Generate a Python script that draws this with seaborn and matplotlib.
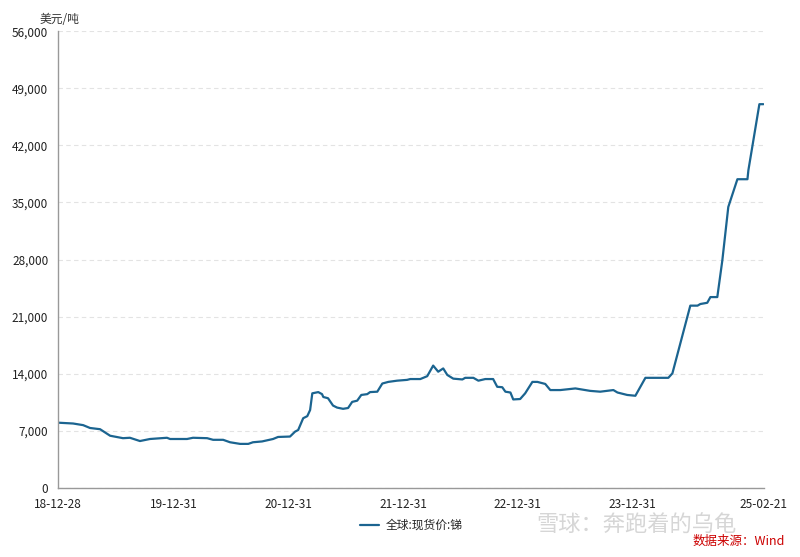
import pandas as pd
import matplotlib
matplotlib.use('Agg')
import matplotlib.pyplot as plt
import seaborn as sns

# Antimony spot price (USD/t)
dates = [
    '2018-12-28', '2019-02-14', '2019-03-18', '2019-04-09', '2019-05-11', '2019-06-12',
    '2019-07-23', '2019-08-14', '2019-09-15', '2019-10-17', '2019-12-10', '2019-12-20',
    '2020-02-12', '2020-03-02', '2020-04-16', '2020-05-05', '2020-06-06', '2020-06-28',
    '2020-07-30', '2020-08-25', '2020-09-09', '2020-10-08', '2020-11-12', '2020-11-28',
    '2021-01-05', '2021-01-21', '2021-01-31', '2021-02-16', '2021-03-01', '2021-03-10',
    '2021-03-17', '2021-04-05', '2021-04-17', '2021-04-21', '2021-05-06', '2021-05-22',
    '2021-06-04', '2021-06-23', '2021-07-09', '2021-07-22', '2021-08-07', '2021-08-20',
    '2021-09-08', '2021-09-17', '2021-10-10', '2021-10-26', '2021-11-14', '2021-12-12',
    '2022-01-13', '2022-01-23', '2022-02-24', '2022-03-18', '2022-04-06', '2022-04-22',
    '2022-05-08', '2022-05-21', '2022-06-09', '2022-07-08', '2022-07-17', '2022-08-12',
    '2022-08-28', '2022-09-19', '2022-10-14', '2022-10-27', '2022-11-12', '2022-11-22',
    '2022-12-08', '2022-12-17', '2023-01-08', '2023-01-24', '2023-02-16', '2023-03-04',
    '2023-03-29', '2023-04-14', '2023-05-16', '2023-07-03', '2023-08-19', '2023-09-20',
    '2023-11-01', '2023-11-14', '2023-12-15', '2024-01-10', '2024-02-11', '2024-04-24',
    '2024-05-07', '2024-07-03', '2024-07-26', '2024-08-04', '2024-08-26', '2024-09-05',
    '2024-09-27', '2024-10-13', '2024-11-01', '2024-11-30', '2025-01-01', '2025-01-04',
    '2025-02-08', '2025-02-21',
]
prices = [
    8000, 7900, 7700, 7350, 7200, 6400,
    6100, 6150, 5750, 6000, 6150, 6000,
    6000, 6150, 6100, 5900, 5900, 5600,
    5400, 5400, 5600, 5700, 6000, 6250,
    6300, 6900, 7100, 8550, 8800, 9550,
    11600, 11750, 11500, 11150, 11000, 10100,
    9850, 9700, 9800, 10550, 10700, 11400,
    11500, 11750, 11800, 12800, 13000, 13150,
    13250, 13350, 13350, 13700, 15000, 14250,
    14650, 13850, 13400, 13300, 13500, 13500,
    13150, 13350, 13350, 12400, 12350, 11800,
    11700, 10850, 10900, 11600, 13000, 13000,
    12750, 12000, 12000, 12200, 11900, 11800,
    12000, 11700, 11400, 11300, 13500, 13500,
    14050, 22350, 22350, 22550, 22700, 23400,
    23400, 27900, 34450, 37850, 37850, 38950,
    47050, 47050,
]
tick_dates = ['2018-12-28', '2019-12-31', '2020-12-31', '2021-12-31',
              '2022-12-31', '2023-12-31', '2025-02-21']
tick_labels = ['18-12-28', '19-12-31', '20-12-31', '21-12-31',
               '22-12-31', '23-12-31', '25-02-21']
y_ticks = [0, 7000, 14000, 21000, 28000, 35000, 42000, 49000, 56000]
series_name = '全球:现货价:锑'

df = pd.DataFrame({'date': pd.to_datetime(dates), 'price': prices})

sns.set_style('white')
plt.rcParams['font.family'] = ['Noto Sans CJK SC', 'DejaVu Sans']

fig = plt.figure(figsize=(8, 5.57), dpi=100)
ax = fig.add_axes([0.0725, 0.124, 0.883, 0.82])

sns.lineplot(data=df, x='date', y='price', ax=ax, color='#1b6490',
             linewidth=1.6, label=series_name)

ax.set_xlim(pd.Timestamp('2018-12-28'), pd.Timestamp('2025-02-24'))
ax.set_ylim(0, 56000)
ax.set_xticks(pd.to_datetime(tick_dates))
ax.set_xticklabels(tick_labels, fontsize=8.5, color='#222222')
ax.set_yticks(y_ticks)
ax.set_yticklabels([f'{v:,}' for v in y_ticks], fontsize=8.5, color='#222222')
ax.set_xlabel('')
ax.set_ylabel('')

ax.yaxis.grid(True, linestyle=(0, (4, 3)), color='#e3e3e3', linewidth=0.8)
ax.xaxis.grid(False)
for side in ['top', 'right']:
    ax.spines[side].set_visible(False)
for side in ['left', 'bottom']:
    ax.spines[side].set_color('#999999')
    ax.spines[side].set_linewidth(1.0)
ax.tick_params(axis='both', length=5, width=0.8, color='#999999', pad=2, direction='out')

ax.text(-0.026, 1.018, '美元/吨', transform=ax.transAxes, fontsize=8.5, color='#333333')

leg = ax.legend(loc='upper center', bbox_to_anchor=(0.5, -0.045), frameon=False,
                fontsize=8.5, handlelength=1.6, handletextpad=0.6)

fig.text(0.67, 0.045, '雪球：奔跑着的乌龟', fontsize=16, color='#d6d6d6', ha='left')
fig.text(0.866, 0.022, '数据来源：Wind', fontsize=9, color='#cc0000', ha='left')

fig.savefig('out.png', dpi=100)
